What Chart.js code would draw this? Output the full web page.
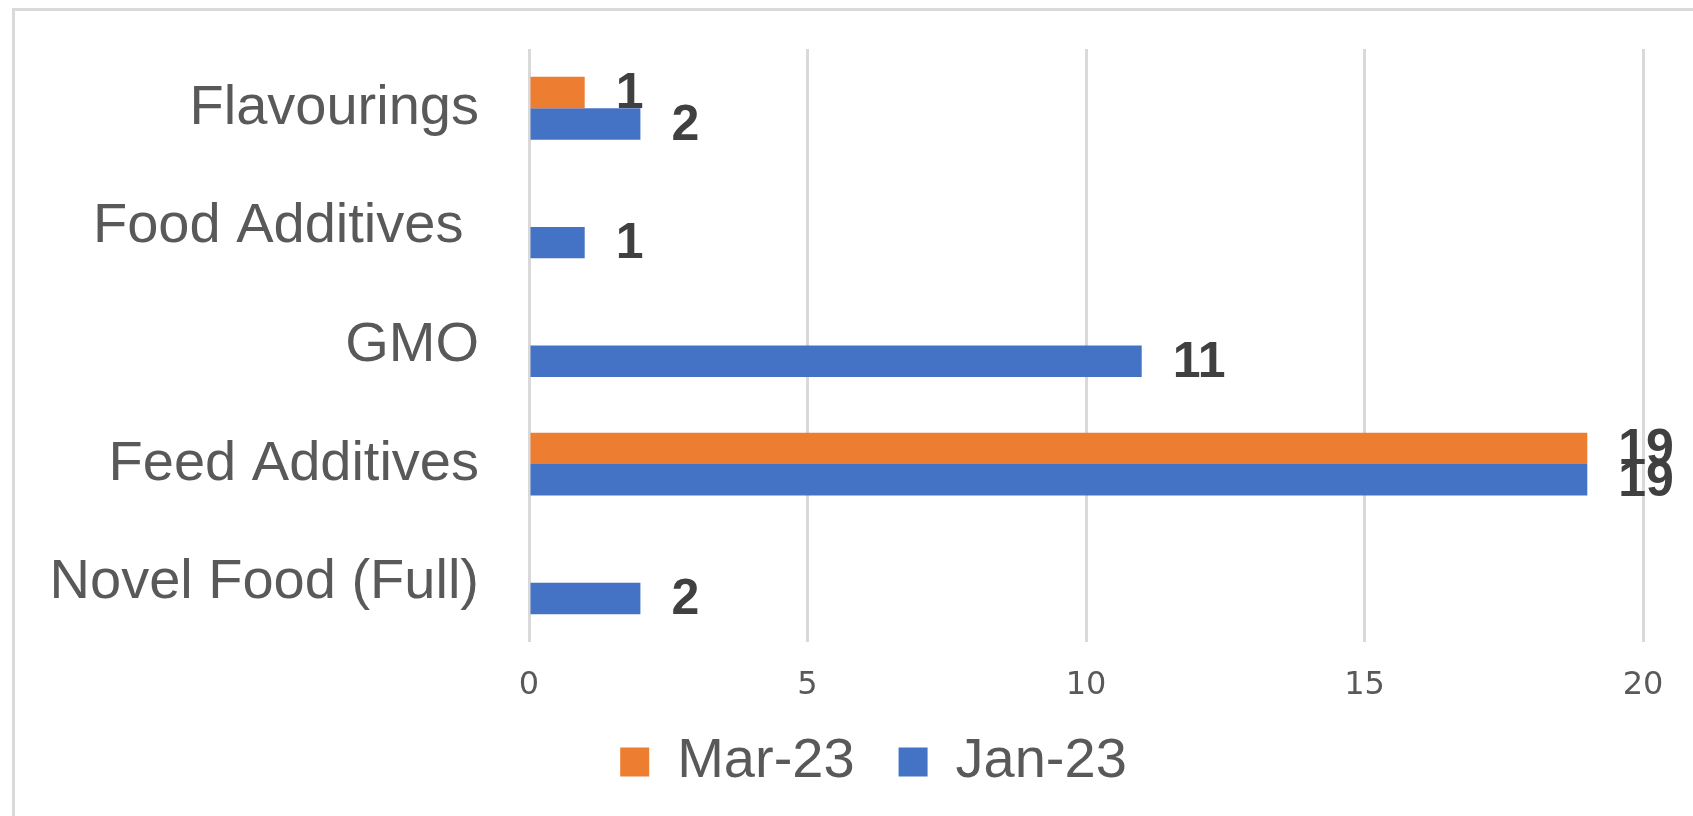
<!DOCTYPE html>
<html>

<head>
    <title>Applications by area</title>
    <meta charset="utf-8">
    <script src="https://cdn.jsdelivr.net/npm/chart.js@4/dist/chart.umd.min.js"></script>
    <style>
        html, body { margin: 0; padding: 0; overflow: hidden; background: #fff; }
        #frame {
            position: absolute; left: 12px; top: 8px; width: 1720px; height: 840px;
            border: 3px solid #d9d9d9;
        }
        #wrap { position: absolute; left: 0; top: 0; width: 1693px; height: 816px; }
    </style>
    <script>
        // values
        var categories = ["Flavourings", "Food Additives ", "GMO", "Feed Additives", "Novel Food (Full)"];
        var mar23 = [1, null, null, 19, null];
        var jan23 = [2, 1, 11, 19, 2];
        var seriesNames = ["Mar-23", "Jan-23"];
        var xTicks = [0, 5, 10, 15, 20];

        // draws the bold numbers at the end of each bar
        var barLabels = {
            id: "barLabels",
            afterDatasetsDraw: function(chart) {
                var ctx = chart.ctx;
                ctx.save();
                ctx.font = "bold 50px 'Liberation Sans', Arial, sans-serif";
                ctx.fillStyle = "#404040";
                ctx.textAlign = "left";
                ctx.textBaseline = "middle";
                chart.data.datasets.forEach(function(ds, i) {
                    var meta = chart.getDatasetMeta(i);
                    meta.data.forEach(function(bar, j) {
                        if (ds.data[j] == null) return;
                        ctx.fillText(String(ds.data[j]), bar.x + 31, bar.y + 2);
                    });
                });
                ctx.restore();
            }
        };

        // legend sits a bit right of centre and close under the axis in the original
        var legendNudge = {
            id: "legendNudge",
            afterLayout: function(chart) {
                var l = chart.legend;
                l.left += 42; l.right += 42;
                l.top -= 16; l.bottom -= 16;
            }
        };

        function LoadChart() {
            var ctx = document.getElementById("myChart");
            return new Chart(ctx, {
                type: "bar",
                plugins: [barLabels, legendNudge],
                data: {
                    labels: categories,
                    datasets: [{
                        label: seriesNames[0],
                        data: mar23,
                        backgroundColor: "#ED7D31"
                    }, {
                        label: seriesNames[1],
                        data: jan23,
                        backgroundColor: "#4472C4"
                    }]
                },
                options: {
                    indexAxis: "y",
                    responsive: false,
                    animation: false,
                    barPercentage: 1,
                    categoryPercentage: 0.53,
                    layout: { padding: { top: 49, right: 50, left: 20, bottom: 0 } },
                    plugins: {
                        tooltip: { enabled: false },
                        legend: {
                            position: "bottom",
                            labels: {
                                boxWidth: 29,
                                boxHeight: 29,
                                padding: 44,
                                color: "#595959",
                                font: { family: "'Liberation Sans', Arial, sans-serif", size: 56 }
                            }
                        }
                    },
                    scales: {
                        x: {
                            min: xTicks[0],
                            max: xTicks[xTicks.length - 1],
                            afterBuildTicks: function(s) {
                                s.ticks = xTicks.map(function(v) { return { value: v }; });
                            },
                            afterFit: function(s) { s.height = 64; },
                            border: { display: false },
                            grid: { color: "#d9d9d9", lineWidth: 3, drawTicks: false },
                            ticks: {
                                padding: 24,
                                color: "#595959",
                                font: { family: "'DejaVu Sans', sans-serif", size: 32 }
                            }
                        },
                        y: {
                            afterFit: function(s) {
                                s.width = 509;
                                s.paddingTop = 0;
                                s.paddingBottom = 0;
                            },
                            border: { display: false },
                            grid: { display: false, drawTicks: false },
                            ticks: {
                                padding: 50,
                                color: "#595959",
                                font: { family: "'Liberation Sans', Arial, sans-serif", size: 56 }
                            }
                        }
                    }
                }
            });
        }
    </script>
</head>

<body>
    <div id="frame"></div>
    <div id="wrap">
        <canvas id="myChart" width="1693" height="816"></canvas>
    </div>
    <script>
        var chart = LoadChart();
    </script>
</body>

</html>
